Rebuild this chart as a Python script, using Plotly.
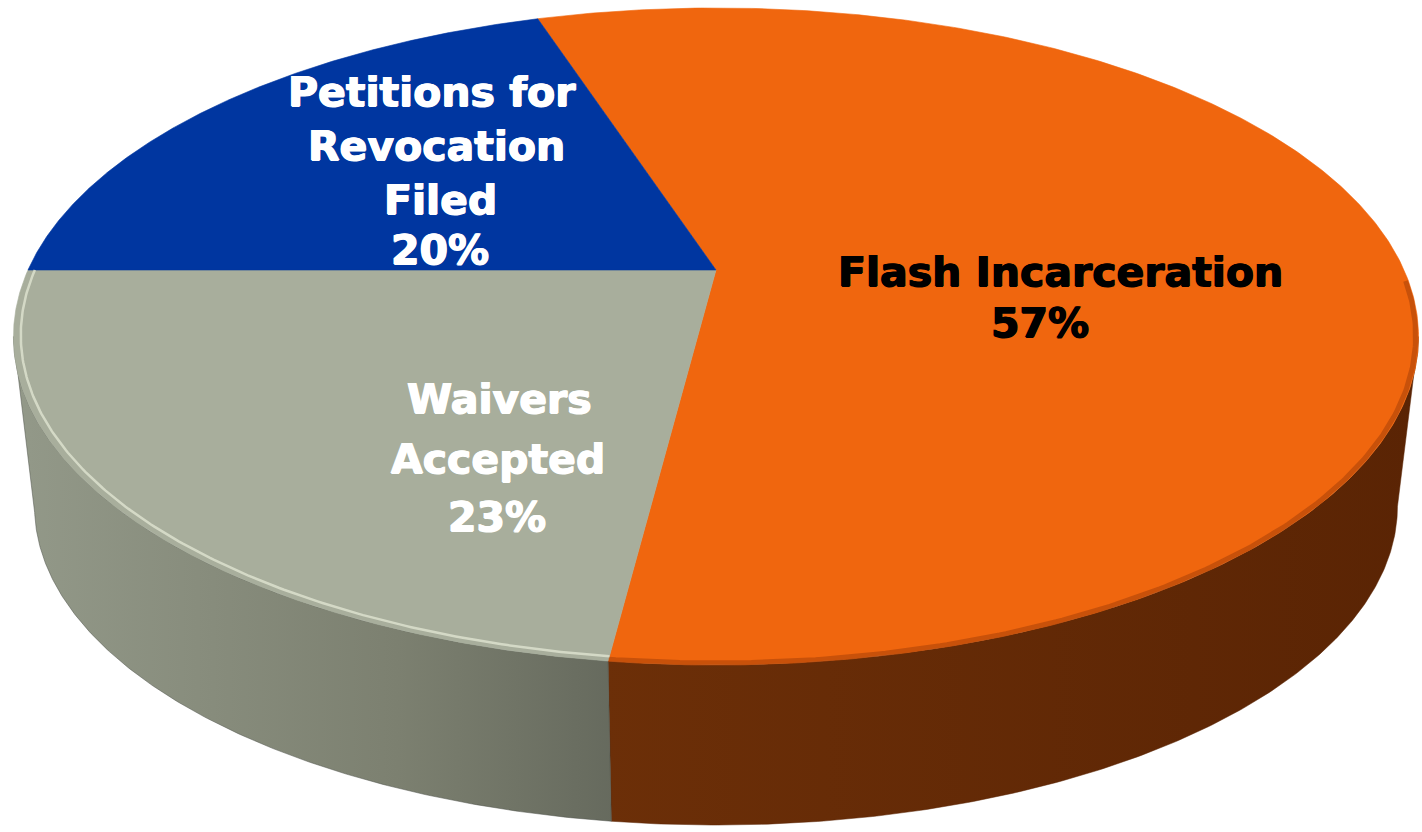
import numpy as np
import plotly.graph_objects as go

# ---------------- data ----------------
categories = ["Flash Incarceration", "Waivers Accepted", "Petitions for Revocation Filed"]
values = [57, 23, 20]
label_lines = [["Flash Incarceration"], ["Waivers", "Accepted"], ["Petitions for", "Revocation", "Filed"]]

# ---------------- style ----------------
top_colors = ["#F0660E", "#A8AE9C", "#0036A0"]
side_colorscales = [
    [[0, "#6C2F08"], [1, "#5A2404"]],
    [[0, "#939989"], [0.45, "#7C8070"], [1, "#4C5048"]],
    [[0, "#00205F"], [1, "#00184A"]],
]
side_grad_span = [(600, 1418), (12, 870), (12, 1418)]
text_colors = ["#000000", "#FFFFFF", "#FFFFFF"]
# label line anchor positions (pixel space of the 1422x832 canvas)
label_pos = [
    [(1060, 272), (1040, 323)],
    [(499, 399), (498, 459), (497, 517)],
    [(432, 92), (436, 146), (440, 200), (440, 250)],
]
FONT = "DejaVu Sans"
FSIZE = 41

# ---------------- projection (3D tilted disc with perspective) ----------------
CX, A0, B0, C0, R = 716.0, 270.0, -260.4, 0.2024, 688.0
VY, K = 6000.0, 0.97  # vanishing point for vertical edges and bottom-disc scale


def top_pt(theta_deg, r=1.0):
    t = np.radians(theta_deg)
    u, v = r * np.sin(t), r * np.cos(t)
    d = 1 + C0 * v
    return CX + R * u / d, (A0 + B0 * v) / d


def bot_pt(theta_deg, r=1.0):
    x, y = top_pt(theta_deg, r)
    return CX + K * (x - CX), VY - K * (VY - y)


total = float(sum(values))
fracs = [v / total for v in values]
start = 270.0 - 360.0 * (1 - fracs[-1])  # last slice spans 9 o'clock -> 12 o'clock
bounds = []
a = start
for f in fracs:
    bounds.append((a, a + 360.0 * f))
    a += 360.0 * f

vis_lo = np.degrees(np.arccos(-C0))
vis_hi = 360.0 - vis_lo

fig = go.Figure()

# side walls
for i, (a0, a1) in enumerate(bounds):
    lo, hi = max(a0, vis_lo), min(a1, vis_hi)
    if hi <= lo:
        continue
    th = np.linspace(lo, hi, 200)
    xt, yt = top_pt(th)
    xb, yb = bot_pt(th[::-1])
    xs = np.concatenate([xt, xb, xt[:1]])
    ys = np.concatenate([yt, yb, yt[:1]])
    g0, g1 = side_grad_span[i]
    fig.add_trace(go.Scatter(
        x=xs, y=ys, mode="lines", fill="toself",
        line=dict(width=0.5, color=side_colorscales[i][-1][1]),
        fillcolor=side_colorscales[i][-1][1],
        fillgradient=dict(type="horizontal", colorscale=side_colorscales[i], start=g0, stop=g1),
        hoverinfo="skip", showlegend=False,
    ))

# top faces
cx0, cy0 = top_pt(0.0, 0.0)
for i, (a0, a1) in enumerate(bounds):
    th = np.linspace(a0, a1, 400)
    xt, yt = top_pt(th)
    xs = np.concatenate([[cx0], xt, [cx0]])
    ys = np.concatenate([[cy0], yt, [cy0]])
    fig.add_trace(go.Scatter(
        x=xs, y=ys, mode="lines", fill="toself",
        line=dict(width=0.6, color=top_colors[i]), fillcolor=top_colors[i],
        hoverinfo="skip", showlegend=False, name=categories[i],
    ))

# rim effects: soft shadow on the first slice, light bevel on the second
a0, a1 = bounds[0]
th = np.linspace(max(a0, 92), min(a1, vis_hi), 200)
xt, yt = top_pt(th, 0.996)
fig.add_trace(go.Scatter(x=xt, y=yt, mode="lines", line=dict(width=5, color="rgba(150,55,6,0.45)"),
                         hoverinfo="skip", showlegend=False))
a0, a1 = bounds[1]
th = np.linspace(a0, a1, 200)
xt, yt = top_pt(th, 0.990)
fig.add_trace(go.Scatter(x=xt, y=yt, mode="lines", line=dict(width=2.5, color="rgba(220,224,206,0.85)"),
                         hoverinfo="skip", showlegend=False))

# labels
for i, lines in enumerate(label_lines):
    texts = lines + [f"{values[i]}%"]
    col = text_colors[i]
    for txt, (x, y) in zip(texts, label_pos[i]):
        fig.add_annotation(x=x, y=y, xref="x", yref="y", text=f"<b>{txt}</b>", showarrow=False,
                           font=dict(family=FONT, size=FSIZE, color=col,
                                     shadow=f"0.7px 0px 0px {col}, -0.7px 0px 0px {col}, 0px 0.5px 0px {col}"),
                           xanchor="center", yanchor="middle")

fig.update_layout(
    width=1422, height=832,
    margin=dict(l=0, r=0, t=0, b=0),
    paper_bgcolor="white", plot_bgcolor="white",
    xaxis=dict(range=[0, 1422], visible=False, fixedrange=True),
    yaxis=dict(range=[832, 0], visible=False, fixedrange=True),
    showlegend=False,
)
fig.write_html("out.html", config={"displayModeBar": False},
               post_script="document.body.style.margin='0';")
